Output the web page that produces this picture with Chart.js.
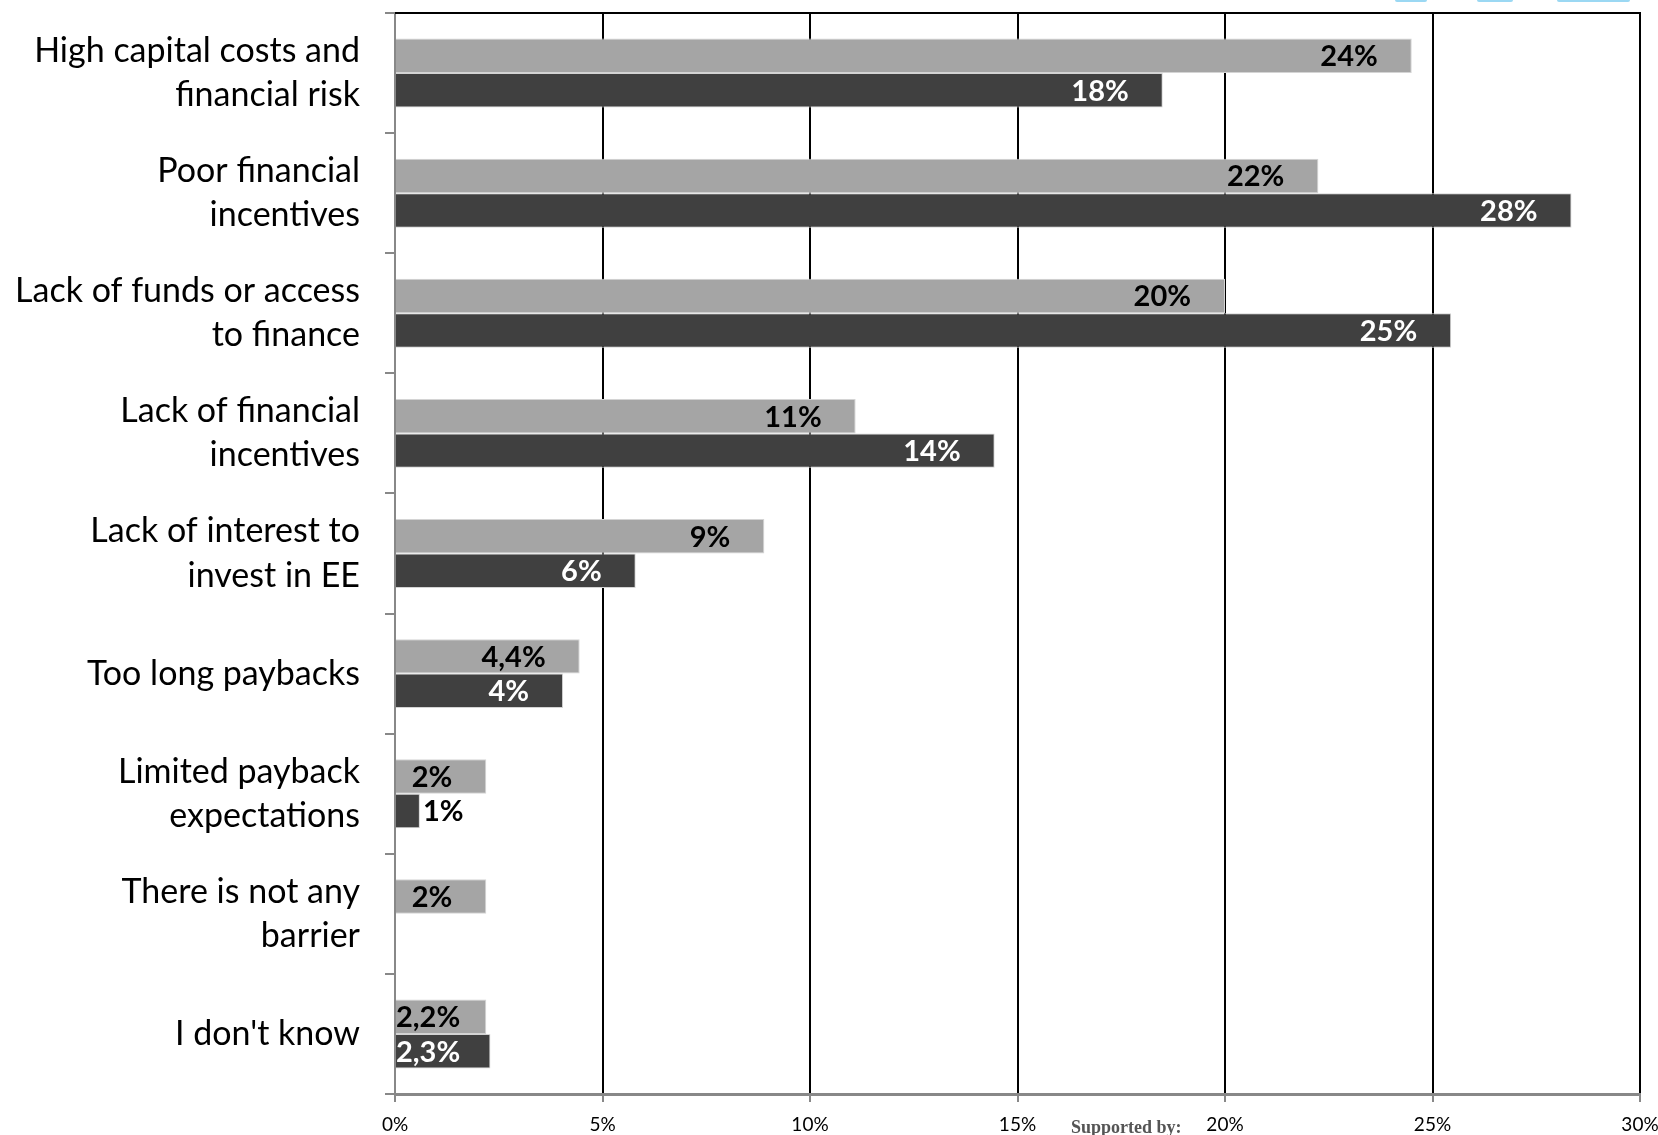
<!DOCTYPE html>
<html><head><meta charset="utf-8">
<script src="https://cdn.jsdelivr.net/npm/chart.js@4/dist/chart.umd.min.js"></script>
<style>
html,body{margin:0;padding:0;background:#fff;}
#wrap{position:relative;width:1658px;height:1135px;overflow:hidden;background:#fff;}
canvas{position:absolute;left:0;top:0;}
#sup{position:absolute;left:1071px;top:1117px;font-family:"Liberation Serif",serif;font-size:18px;color:#555;font-weight:bold;white-space:nowrap;}
.logo{position:absolute;top:0;height:2px;background:#9bd8f3;border-radius:0 0 3px 3px;}
</style></head><body>
<div id="wrap">
<canvas id="c" width="1658" height="1135"></canvas>
<div id="sup">Supported by:</div>
<div class="logo" style="left:1395px;width:32px"></div>
<div class="logo" style="left:1477px;width:36px"></div>
<div class="logo" style="left:1557px;width:73px"></div>
</div>
<script>
const categories = [
  ["High capital costs and","financial risk"],
  ["Poor financial","incentives"],
  ["Lack of funds or access","to finance"],
  ["Lack of financial","incentives"],
  ["Lack of interest to","invest in EE"],
  "Too long paybacks",
  ["Limited payback","expectations"],
  ["There is not any","barrier"],
  "I don't know"
];
const greyValues = [24.5, 22.25, 20.0, 11.1, 8.9, 4.45, 2.2, 2.2, 2.2];
const darkValues = [18.5, 28.35, 25.45, 14.45, 5.8, 4.05, 0.6, null, 2.3];
const greyLabels = ["24%","22%","20%","11%","9%","4,4%","2%","2%","2,2%"];
const darkLabels = ["18%","28%","25%","14%","6%","4%","1%","","2,3%"];
const xMin = 0, xMax = 30, xStep = 5;

const topBorder = {
  id: 'topBorder',
  afterDraw(chart){
    const a = chart.chartArea, ctx = chart.ctx;
    ctx.save();
    ctx.strokeStyle = '#000';
    ctx.lineWidth = 2;
    ctx.beginPath();
    ctx.moveTo(a.left, a.top);
    ctx.lineTo(a.right + 1, a.top);
    ctx.stroke();
    ctx.restore();
  }
};

const barLabels = {
  id: 'barLabels',
  afterDatasetsDraw(chart){
    const ctx = chart.ctx;
    const sets = [greyLabels, darkLabels];
    const colors = ['#000', '#fff'];
    ctx.save();
    ctx.font = 'bold 29px Lato, "Open Sans", sans-serif';
    ctx.textBaseline = 'middle';
    ctx.textAlign = 'left';
    chart.data.datasets.forEach((ds, di) => {
      const meta = chart.getDatasetMeta(di);
      meta.data.forEach((bar, i) => {
        const txt = sets[di][i];
        if (!txt || ds.data[i] == null) return;
        const w = ctx.measureText(txt).width;
        const base = bar.base, end = bar.x;
        let left, color = colors[di];
        if (end - base < w + 6) { left = end + 3; color = '#000'; }
        else { left = end - 34 - w; if (left < base) left = base; }
        ctx.fillStyle = color;
        ctx.fillText(txt, left, bar.y + 1);
      });
    });
    ctx.restore();
  }
};

new Chart(document.getElementById('c'), {
  type: 'bar',
  data: {
    labels: categories,
    datasets: [
      { label: 'Series 1', data: greyValues, backgroundColor: '#A5A5A5', borderColor: '#d4d4d4', borderWidth: 1, categoryPercentage: 0.574, barPercentage: 1 },
      { label: 'Series 2', data: darkValues, backgroundColor: '#404040', borderColor: '#d4d4d4', borderWidth: 1, categoryPercentage: 0.574, barPercentage: 1 }
    ]
  },
  options: {
    indexAxis: 'y',
    responsive: false,
    animation: false,
    devicePixelRatio: 1,
    layout: { padding: { left: 0, right: 18, top: 13, bottom: 0 } },
    plugins: { legend: { display: false }, tooltip: { enabled: false } },
    scales: {
      x: {
        type: 'linear', min: xMin, max: xMax,
        ticks: {
          stepSize: xStep,
          callback: v => v + '%',
          color: '#000',
          font: { family: '"Liberation Sans Narrow", Lato, sans-serif', size: 19 },
          padding: 11,
          maxRotation: 0
        },
        grid: {
          color: c => (c.tick && c.tick.value === 0) ? 'rgba(0,0,0,0)' : '#000',
          lineWidth: 2,
          tickColor: '#888',
          tickLength: 8
        },
        border: { color: '#888', width: 3 },
        afterFit(s){ s.height = 41; s.paddingLeft = 0; s.paddingRight = 0; }
      },
      y: {
        type: 'category',
        ticks: {
          color: '#000',
          font: { family: 'Lato, "Open Sans", sans-serif', size: 34, lineHeight: 1.3 },
          padding: 25
        },
        grid: { offset: true, drawOnChartArea: false, drawTicks: true, tickLength: 10, color: '#888', lineWidth: 2 },
        border: { color: '#888', width: 2 },
        afterFit(s){ s.width = 395; s.paddingTop = 0; s.paddingBottom = 0; }
      }
    }
  },
  plugins: [topBorder, barLabels]
});
</script>
</body></html>
